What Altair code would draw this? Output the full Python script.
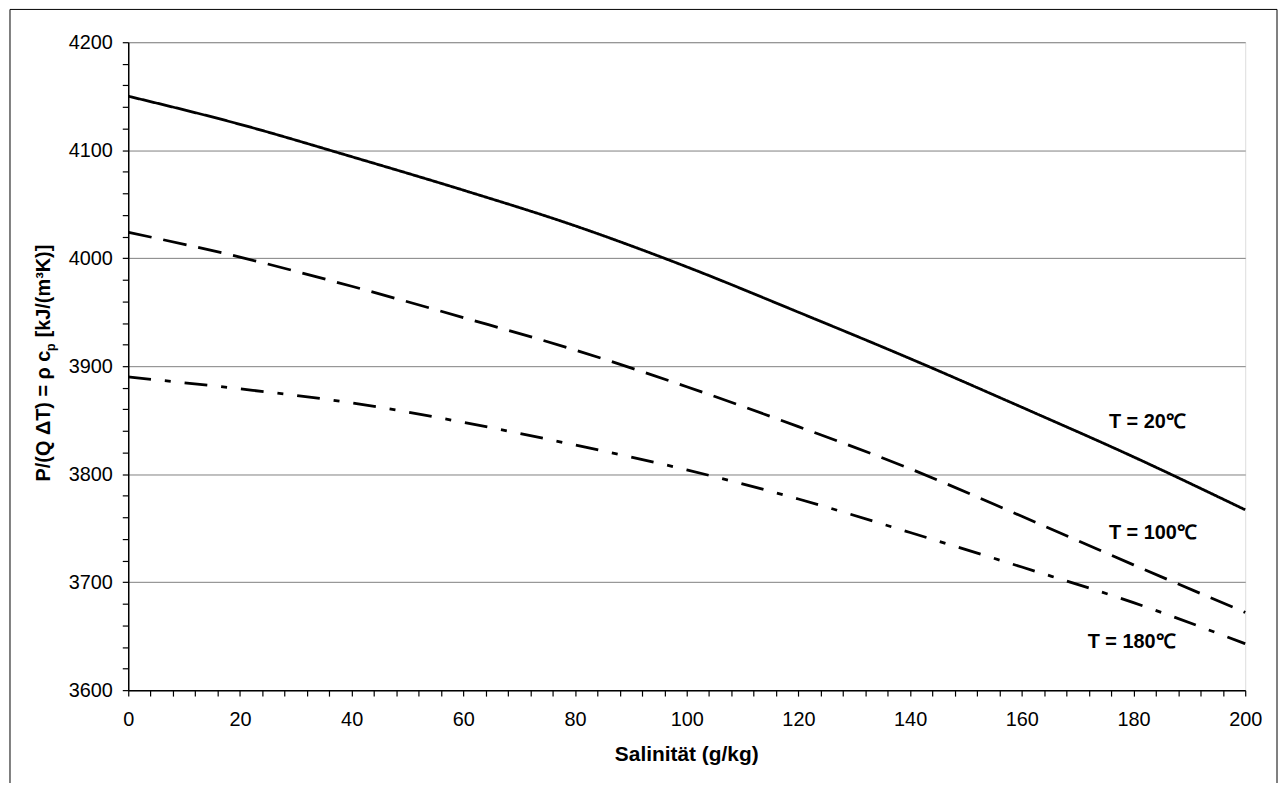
import altair as alt
import pandas as pd

# ---- data ----
salinity = [0, 20, 40, 60, 80, 100, 120, 140, 160, 180, 200]
cp_t20 = [4150, 4124, 4094, 4063, 4030, 3992, 3950, 3907, 3862, 3816, 3767]
cp_t100 = [4024, 4001, 3974, 3945, 3915, 3881, 3844, 3805, 3761, 3716, 3672]
cp_t180 = [3890, 3879, 3866, 3848, 3827, 3804, 3777, 3746, 3714, 3681, 3643]
series_names = ["T = 20℃", "T = 100℃", "T = 180℃"]

label_text = ["T = 20℃", "T = 100℃", "T = 180℃"]
label_x = [175.6, 175.6, 171.8]
label_y = [3843, 3740, 3639]

y_ticks = list(range(3600, 4201, 20))
x_ticks = list(range(0, 201, 4))

FONT = "Arial, Liberation Sans, sans-serif"

rows = []
for name, vals in zip(series_names, [cp_t20, cp_t100, cp_t180]):
    for s, v in zip(salinity, vals):
        rows.append({"S": s, "v": v, "series": name})
df = pd.DataFrame(rows)
labels = pd.DataFrame({"S": label_x, "v": label_y, "text": label_text})

xscale = alt.Scale(domain=[0, 200], nice=False, zero=False)
yscale = alt.Scale(domain=[3600, 4200], nice=False, zero=False)

x_axis = alt.Axis(
    values=x_ticks, tickCount=500,
    labelExpr="datum.value % 20 === 0 ? datum.label : ''",
    format="d", grid=False, tickSize=6, tickColor="black", domainColor="black",
    domainWidth=1.5, tickWidth=1.2, labelPadding=14, labelFontSize=20,
    labelFont=FONT, labelColor="black", labelOverlap=False, labelFlush=False,
    title=None,
)
y_axis = alt.Axis(
    values=y_ticks, tickCount=500,
    labelExpr="datum.value % 100 === 0 ? datum.label : ''",
    format="d", grid=True, gridColor="#808080", gridWidth=1,
    gridOpacity={"condition": {"test": "datum.value % 100 === 0", "value": 1}, "value": 0},
    tickSize=6, tickColor="black", domainColor="black", domainWidth=1.5, tickWidth=1.2,
    labelPadding=10, labelFontSize=20, labelFont=FONT, labelColor="black",
    labelOverlap=False, labelFlush=False, title=None,
)

lines = alt.Chart(df).mark_line(color="black", strokeWidth=2.8, interpolate="monotone").encode(
    x=alt.X("S:Q", scale=xscale, axis=x_axis),
    y=alt.Y("v:Q", scale=yscale, axis=y_axis),
    strokeDash=alt.StrokeDash(
        "series:N",
        scale=alt.Scale(domain=series_names, range=[[1, 0], [24, 12], [23, 14, 6, 14]]),
        legend=None,
    ),
    detail="series:N",
)

series_labels = alt.Chart(labels).mark_text(
    align="left", baseline="alphabetic", font=FONT, fontSize=20, fontWeight="bold", color="black"
).encode(x=alt.X("S:Q", scale=xscale), y=alt.Y("v:Q", scale=yscale), text="text:N")

one = alt.Data(values=[{}])
title_style = dict(font=FONT, fontWeight="bold", color="black", baseline="alphabetic")

x_title = alt.Chart(one).mark_text(align="center", fontSize=21, **title_style).encode(
    x=alt.value(562), y=alt.value(723), text=alt.value("Salinität (g/kg)")
)
y_t1 = alt.Chart(one).mark_text(align="left", angle=270, fontSize=20, **title_style).encode(
    x=alt.value(-79), y=alt.value(442), text=alt.value("P/(Q ΔT) = ρ c")
)
y_t2 = alt.Chart(one).mark_text(align="left", angle=270, fontSize=13, **title_style).encode(
    x=alt.value(-74), y=alt.value(311), text=alt.value("p")
)
y_t3 = alt.Chart(one).mark_text(align="left", angle=270, fontSize=20, **title_style).encode(
    x=alt.value(-79), y=alt.value(297), text=alt.value("[kJ/(m³K)]")
)
frame = alt.Chart(one).mark_rect(fill=None, stroke="black", strokeWidth=1).encode(
    x=alt.value(-119), x2=alt.value(1156), y=alt.value(-33), y2=alt.value(760)
)

chart = alt.layer(lines, series_labels, x_title, y_t1, y_t2, y_t3, frame).properties(
    width=1124, height=652,
    padding={"left": 121, "top": 32, "right": 34, "bottom": 91},
    autosize=alt.AutoSizeParams(type="none"),
).configure_view(stroke="black", strokeWidth=2).configure(background="white")

chart.save("out.html", embed_options={"renderer": "svg", "actions": False})
